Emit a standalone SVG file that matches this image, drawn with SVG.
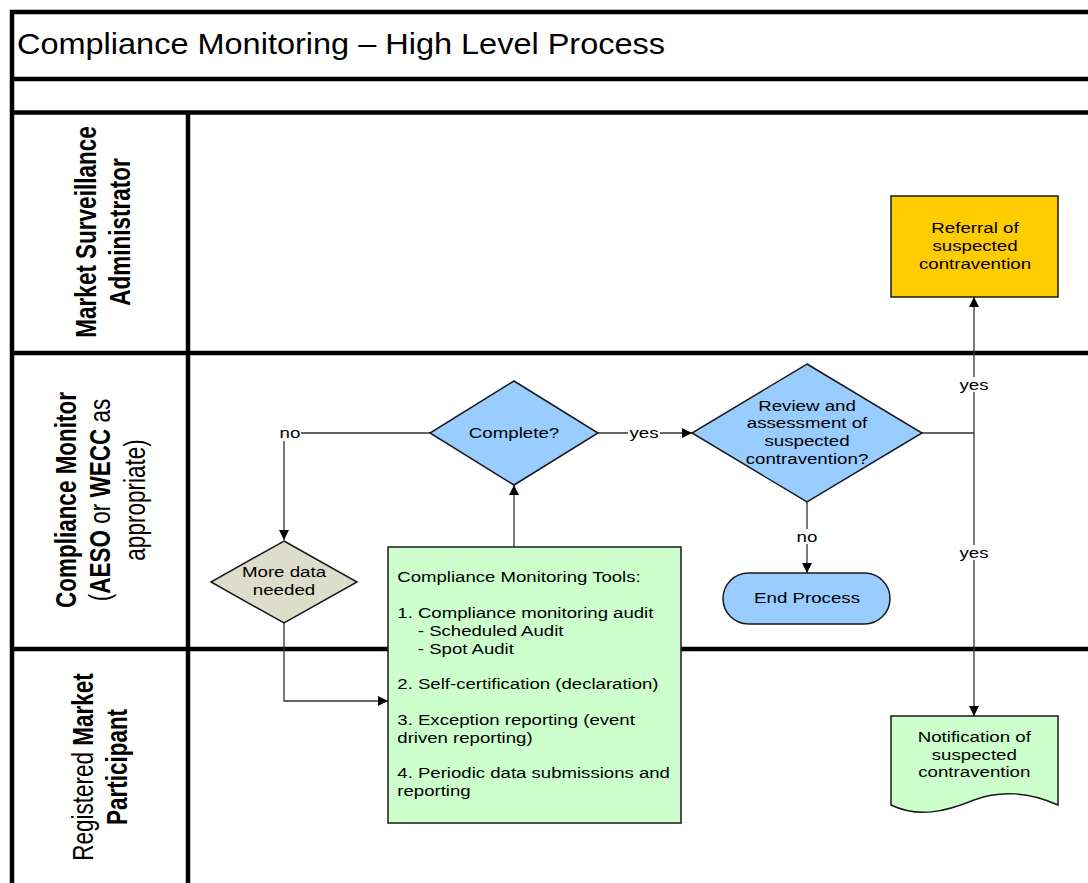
<svg xmlns="http://www.w3.org/2000/svg" width="1088" height="883" viewBox="0 0 1088 883">
<style>
.frame{stroke:#000;stroke-width:4.5;fill:none}
.t{font-family:"Liberation Sans",Arial,sans-serif;font-size:14.5px;fill:#000}
.lane{font-family:"Liberation Sans",Arial,sans-serif;font-size:22.5px;fill:#000;text-anchor:middle;dominant-baseline:central}
.b{font-weight:bold}
.n{font-weight:normal}
.con{stroke:#333;stroke-width:1.3;fill:none}
.node{stroke:#1a1a1a;stroke-width:1.5}
.blue{fill:#99CCFF}
.green{fill:#CCFFCC}
.yellow{fill:#FFCC00}
.grey{fill:#DDDDCB}
.bg{fill:#fff}
</style>
<defs>
<marker id="arr" viewBox="0 0 10 10" refX="10" refY="5" markerWidth="11" markerHeight="10" markerUnits="userSpaceOnUse" orient="auto">
<path d="M0,0 L10,5 L0,10 z" fill="#000"/>
</marker>
</defs>
<rect width="1088" height="883" fill="#fff"/>
<g id="frame">
<path class="frame" d="M12,883 V12 H1088 M12,79 H1088 M12,112.5 H1088 M12,353 H1088 M12,649 H1088 M188,112.5 V883"/>
<text x="17" y="53.5" font-family="Liberation Sans,Arial,sans-serif" font-size="29" textLength="648" lengthAdjust="spacingAndGlyphs">Compliance Monitoring – High Level Process</text>
</g>
<g id="lane-msa">
<text class="lane b" transform="translate(86,232) scale(1.35,1) rotate(-90)">Market Surveillance</text>
<text class="lane b" transform="translate(120,232) scale(1.35,1) rotate(-90)">Administrator</text>
</g>
<g id="lane-cm">
<text class="lane b" transform="translate(66,500) scale(1.35,1) rotate(-90)">Compliance Monitor</text>
<text class="lane n" transform="translate(100,500) scale(1.35,1) rotate(-90)">(<tspan class="b">AESO</tspan> or <tspan class="b">WECC</tspan> as</text>
<text class="lane n" transform="translate(135,500) scale(1.35,1) rotate(-90)">appropriate)</text>
</g>
<g id="lane-rmp">
<text class="lane n" transform="translate(83,767) scale(1.35,1) rotate(-90)">Registered <tspan class="b">Market</tspan></text>
<text class="lane b" transform="translate(117,767) scale(1.35,1) rotate(-90)">Participant</text>
</g>
<g id="connectors">
<path class="con" d="M514,547 V485" marker-end="url(#arr)"/>
<path class="con" d="M598,433 H692" marker-end="url(#arr)"/>
<path class="con" d="M430,433 H284 V540" marker-end="url(#arr)"/>
<path class="con" d="M284,623 V701 H388" marker-end="url(#arr)"/>
<path class="con" d="M807,502 V573" marker-end="url(#arr)"/>
<path class="con" d="M922,433 H974 V297" marker-end="url(#arr)"/>
<path class="con" d="M974,433 V716" marker-end="url(#arr)"/>
<rect class="bg" x="279" y="426" width="22" height="15"/>
<text class="t" text-anchor="middle" transform="translate(290,0) scale(1.29,1)" y="438">no</text>
<rect class="bg" x="628" y="426" width="32" height="15"/>
<text class="t" text-anchor="middle" transform="translate(644,0) scale(1.29,1)" y="438">yes</text>
<rect class="bg" x="796" y="529" width="22" height="15"/>
<text class="t" text-anchor="middle" transform="translate(807,0) scale(1.29,1)" y="542">no</text>
<rect class="bg" x="958" y="377" width="32" height="15"/>
<text class="t" text-anchor="middle" transform="translate(974,0) scale(1.29,1)" y="390">yes</text>
<rect class="bg" x="958" y="545" width="32" height="15"/>
<text class="t" text-anchor="middle" transform="translate(974,0) scale(1.29,1)" y="558">yes</text>
</g>
<g id="referral">
<rect class="node yellow" x="891" y="196" width="167" height="101"/>
<text class="t" text-anchor="middle" transform="translate(975,0) scale(1.29,1)"><tspan x="0" y="233">Referral of</tspan><tspan x="0" y="251">suspected</tspan><tspan x="0" y="269">contravention</tspan></text>
</g>
<g id="complete">
<polygon class="node blue" points="514,381 598,433 514,485 430,433"/>
<text class="t" text-anchor="middle" transform="translate(514,0) scale(1.29,1)" y="438">Complete?</text>
</g>
<g id="review">
<polygon class="node blue" points="807,364 922,433 807,502 692,433"/>
<text class="t" text-anchor="middle" transform="translate(807,0) scale(1.29,1)"><tspan x="0" y="411">Review and</tspan><tspan x="0" y="428.5">assessment of</tspan><tspan x="0" y="446">suspected</tspan><tspan x="0" y="464">contravention?</tspan></text>
</g>
<g id="end">
<rect class="node blue" x="723" y="573" width="167" height="51" rx="25.5"/>
<text class="t" text-anchor="middle" transform="translate(807,0) scale(1.29,1)" y="603.5">End Process</text>
</g>
<g id="more-data">
<polygon class="node grey" points="284,541 357,582 284,623 211,582"/>
<text class="t" text-anchor="middle" transform="translate(284,0) scale(1.29,1)"><tspan x="0" y="577.5">More data</tspan><tspan x="0" y="595">needed</tspan></text>
</g>
<g id="tools">
<rect class="node green" x="388" y="547" width="293" height="276"/>
<g transform="translate(397.3,0) scale(1.283,1)">
<text class="t" x="0" y="582.5">Compliance Monitoring Tools:</text>
<text class="t" x="0" y="618.3">1. Compliance monitoring audit</text>
<text class="t" x="16" y="636">- Scheduled Audit</text>
<text class="t" x="16" y="654">- Spot Audit</text>
<text class="t" x="0" y="689.3">2. Self-certification (declaration)</text>
<text class="t" x="0" y="725">3. Exception reporting (event</text>
<text class="t" x="0" y="743.3">driven reporting)</text>
<text class="t" x="0" y="778.3">4. Periodic data submissions and</text>
<text class="t" x="0" y="796">reporting</text>
</g>
</g>
<g id="notification">
<path class="node green" d="M891,716 H1058 V805 C1030,792 1000,790 974,800 C945,812 918,818 891,805 Z"/>
<text class="t" text-anchor="middle" transform="translate(974.3,0) scale(1.29,1)"><tspan x="0" y="741.7">Notification of</tspan><tspan x="0" y="760">suspected</tspan><tspan x="0" y="777">contravention</tspan></text>
</g>
</svg>
